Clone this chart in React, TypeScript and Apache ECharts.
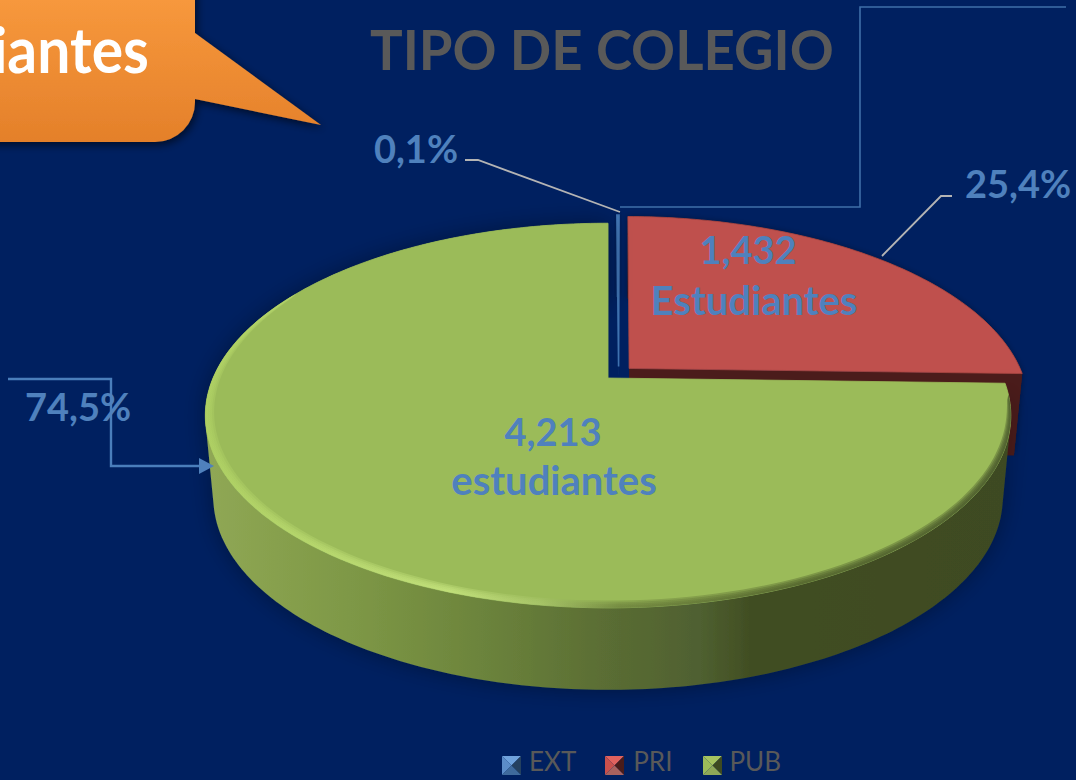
import React, { useEffect, useRef } from "react";
import * as echarts from "echarts";

// ---- data ----
const categories = ["EXT", "PRI", "PUB"];
const students = [6, 1432, 4213];
const percentLabels = ["0,1%", "25,4%", "74,5%"];
const countLabels = ["4,213", "1,432"];
const unitLabels = ["estudiantes", "Estudiantes"];
const chartTitle = "TIPO DE COLEGIO";
const calloutText = "iantes";

// ---- styling ----
const FONT = "Lato";
const BG = "#002060";
const LABEL = "#4F81BD";
const faceColors = ["#4F81BD", "#BF504D", "#9BBB59"];
const wallColors = ["#2f5f9c", "#4B1C1B", "#3E4A20"];
const iconFaces = [
  { top: "#6fa2dc", left: "#5b8cc8", right: "#24405f", bottom: "#3f6a9c" },
  { top: "#e0625e", left: "#c9504c", right: "#4a1c1a", bottom: "#a8625e" },
  { top: "#a6c460", left: "#9bbb59", right: "#3e4a20", bottom: "#8fa858" },
];

// ---- projection of the tilted disc ----
const X0 = 608, Y0 = 378, A = 185, B = 395, K = 0.195;
const DEPTH = 82, SHRINK = 0.98;
const CU = 0.027, CV = 0.026, EXPLODE = 0.0375;
const total = students.reduce((a, b) => a + b, 0);

function project(u: number, v: number) {
  const s = 1 / (1 + K * v);
  return [X0 + B * u * s, Y0 - A * v * s];
}
function lower(p: number[]) {
  return [X0 + (p[0] - X0) * SHRINK, p[1] + DEPTH];
}
function range(i: number, value: number) {
  const before = students.slice(0, i).reduce((a, b) => a + b, 0);
  const a0 = (before / total) * Math.PI * 2;
  return [a0, a0 + (value / total) * Math.PI * 2];
}
function horizontal(stops: [number, string][]) {
  const x1 = 203, x2 = 1008;
  return {
    type: "linear", global: true, x: x1, y: 0, x2, y2: 0,
    colorStops: stops.map(([x, color]) => ({ offset: (x - x1) / (x2 - x1), color })),
  };
}
const sideFill = () =>
  horizontal([
    [203, "#90a855"], [350, "#7e9846"], [480, "#6c843c"],
    [600, "#5b6e34"], [700, "#4f6030"], [750, "#414e23"], [1008, "#3e4a20"],
  ]);
const rimFill = () =>
  horizontal([
    [203, "#b0d264"], [450, "#c6e47e"], [540, "#a9c66a"],
    [620, "#6f843e"], [800, "#4e5e2a"], [1008, "#46552a"],
  ]);

// one quad per arc step, all wound the same way, so the outline keeps its tangents
function sidePath(arc: number[][]) {
  let d = "";
  for (let n = 0; n < arc.length - 1; n++) {
    const q = [arc[n], arc[n + 1], lower(arc[n + 1]), lower(arc[n])];
    let area = 0;
    q.forEach((p, j) => {
      const r = q[(j + 1) % 4];
      area += p[0] * r[1] - r[0] * p[1];
    });
    const o = area < 0 ? [...q].reverse() : q;
    d += "M" + o.map((p) => p[0].toFixed(2) + " " + p[1].toFixed(2)).join("L") + "Z";
  }
  return d;
}

function makeRender(i: number) {
  return (_p: any, api: any) => {
    const value = api.value(0);
    const [a0, a1] = range(i, value);
    const mid = (a0 + a1) / 2;
    const ou = CU + EXPLODE * Math.sin(mid);
    const ov = CV + EXPLODE * Math.cos(mid);
    const at = (a: number, r: number) => project(ou + r * Math.sin(a), ov + r * Math.cos(a));
    const steps = Math.max(2, Math.ceil(((a1 - a0) * 180) / Math.PI));
    const arc: number[][] = [];
    for (let n = 0; n <= steps; n++) arc.push(at(a0 + ((a1 - a0) * n) / steps, 1));
    const apex = project(ou, ov);
    const children: any[] = [];
    children.push({
      type: "path",
      shape: { pathData: sidePath(arc) },
      style: {
        fill: i === 2 ? sideFill() : wallColors[i],
        shadowBlur: i === 2 ? 22 : 6,
        shadowColor: "rgba(0,5,30,0.35)",
      },
    });
    const end = arc[arc.length - 1];
    children.push({
      type: "polygon",
      shape: { points: [apex, end, lower(end), lower(apex)] },
      style: { fill: wallColors[i] },
    });
    children.push({
      type: "polygon",
      shape: { points: [apex, ...arc] },
      style: {
        fill: faceColors[i],
        stroke: i === 0 ? "#3f72b0" : i === 1 ? "#A84643" : faceColors[i],
        lineWidth: i === 0 ? 1.6 : 0.8,
      },
    });
    if (i === 2) {
      const t0 = (95 * Math.PI) / 180, t1 = (300 * Math.PI) / 180;
      [0.026, 0.02, 0.014, 0.008].forEach((W) => {
        const outer: number[][] = [], inner: number[][] = [];
        for (let n = 0; n <= 120; n++) {
          const a = t0 + ((t1 - t0) * n) / 120;
          const w = W * Math.pow(Math.sin((Math.PI * n) / 120), 0.4);
          outer.push(at(a, 1));
          inner.push(at(a, 1 - w));
        }
        children.push({
          type: "polygon",
          shape: { points: [...outer, ...inner.reverse()] },
          style: { fill: rimFill(), opacity: 0.38 },
        });
      });
    }
    return { type: "group", children };
  };
}

const ICON = 19;
const iconX = [502, 605, 703];
const ICON_Y = 756;

function pyramid(x: number, y: number, f: (typeof iconFaces)[number]) {
  const s = ICON, m = ICON / 2, cx = x + m, cy = y + m;
  const tri = (pts: number[][], fill: string) => ({ type: "polygon", shape: { points: pts }, style: { fill } });
  return {
    type: "group",
    z: 20,
    children: [
      tri([[x, y], [x + s, y], [cx, cy]], f.top),
      tri([[x, y], [cx, cy], [x, y + s]], f.left),
      tri([[x + s, y], [x + s, y + s], [cx, cy]], f.right),
      tri([[x, y + s], [x + s, y + s], [cx, cy]], f.bottom),
    ],
  };
}

const label = (text: string, x: number, y: number, size: number, align = "center") => ({
  type: "text",
  x,
  y,
  z: 15,
  style: { text, fill: LABEL, font: `bold ${size}px ${FONT}`, textAlign: align, textVerticalAlign: "middle" },
});
const line = (points: number[][], stroke: string, lineWidth: number) => ({
  type: "polyline",
  z: 14,
  shape: { points },
  style: { stroke, lineWidth, fill: "none" },
});

echarts.graphic.registerShape(
  "calloutBox",
  echarts.graphic.extendPath("M-60 -60 H195 V33 L321 125 L195 99 V102 A40 40 0 0 1 155 142 H-60 Z", {}) as any
);

export default function App() {
  const ref = useRef<HTMLDivElement>(null);
  useEffect(() => {
    document.body.style.margin = "0";
    document.body.style.background = BG;
    const chart = echarts.init(ref.current!, undefined, { renderer: "svg" });
    chart.setOption({
      animation: false,
      backgroundColor: BG,
      title: {
        text: chartTitle,
        left: 365,
        top: 16,
        textStyle: { color: "#595959", fontFamily: FONT, fontWeight: "bold", fontSize: 54.5 },
      },
      legend: {
        data: categories,
        left: 502,
        top: 748,
        padding: 0,
        itemWidth: ICON,
        itemHeight: ICON,
        itemGap: 30,
        icon: "rect",
        itemStyle: { opacity: 0 },
        textStyle: { color: "#595959", fontFamily: FONT, fontSize: 26, padding: [0, 0, 0, 3] },
      },
      series: categories.map((name, i) => ({
        type: "custom",
        name,
        coordinateSystem: "none",
        itemStyle: { color: faceColors[i] },
        renderItem: makeRender(i),
        data: [[students[i]]],
        z: 2 + i,
      })),
      graphic: [
        {
          type: "calloutBox",
          z: 12,
          style: {
            fill: {
              type: "linear", x: 0, y: 0, x2: 0, y2: 1,
              colorStops: [{ offset: 0, color: "#FFA244" }, { offset: 1, color: "#E4802A" }],
            },
            shadowBlur: 9,
            shadowOffsetX: 2,
            shadowOffsetY: 3,
            shadowColor: "rgba(0,0,0,0.6)",
          },
        },
        {
          type: "text",
          x: 149,
          y: 48,
          z: 13,
          scaleX: 0.92,
          style: { text: calloutText, fill: "#fff", font: `bold 64px ${FONT}`, textAlign: "right", textVerticalAlign: "middle" },
        },
        line([[465, 160], [478, 160], [620, 212]], "#B4B4B4", 1.8),
        line([[882, 256], [941, 196], [952, 196]], "#B4B4B4", 1.8),
        line([[1066, 7], [860, 7], [860, 207], [620, 207]], "#3F6FA8", 1.6),
        line([[8, 379], [111, 379], [111, 466], [202, 466]], "#4A7EBB", 2.4),
        {
          type: "polygon",
          z: 14,
          shape: { points: [[199, 458], [214, 466], [199, 474]] },
          style: { fill: "#4F81BD" },
        },
        label(percentLabels[0], 416, 148, 38),
        label(percentLabels[1], 1018, 183, 38),
        label(percentLabels[2], 78, 406, 38),
        label(countLabels[0], 553, 431, 38),
        label(unitLabels[0], 554, 480, 40),
        label(countLabels[1], 748, 249, 38),
        label(unitLabels[1], 754, 300, 40),
        ...categories.map((_, i) => pyramid(iconX[i], ICON_Y, iconFaces[i])),
      ],
    });
    return () => chart.dispose();
  }, []);
  return <div ref={ref} style={{ width: 1076, height: 780, overflow: "hidden" }} />;
}
